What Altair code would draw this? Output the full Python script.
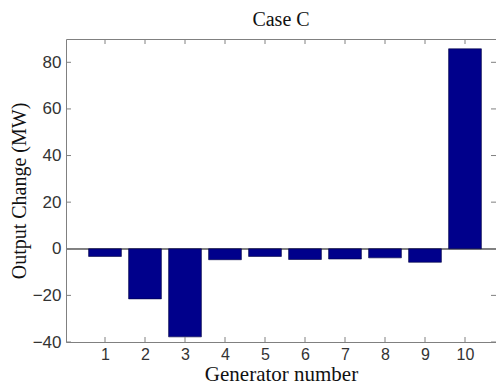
import altair as alt
import pandas as pd

generators = [1, 2, 3, 4, 5, 6, 7, 8, 9, 10]
output_change = [-3.3, -21.5, -37.8, -4.7, -3.3, -4.6, -4.4, -3.9, -5.8, 85.8]
y_ticks = [-40, -20, 0, 20, 40, 60, 80]
x_ticks = [1, 2, 3, 4, 5, 6, 7, 8, 9, 10]

W, H = 430, 303
FRAME = "#808080"
BAR = "#00008B"

df = pd.DataFrame({"g": generators, "v": output_change})
yt = pd.DataFrame({"t": y_ticks})
xt = pd.DataFrame({"t": x_ticks})

xscale = alt.Scale(domain=[0.025, 10.775], nice=False, zero=False)
yscale = alt.Scale(domain=[-40, 90], nice=False)
xaxis = alt.Axis(values=x_ticks, title="Generator number", ticks=False,
                 domain=False, grid=False, labelPadding=4, titlePadding=1,
                 titleFontSize=21, labelFontSize=16)
yaxis = alt.Axis(values=y_ticks, title="Output Change (MW)", ticks=False,
                 domain=False, grid=False, labelPadding=5, titlePadding=3,
                 titleFontSize=20)

bars = alt.Chart(df).transform_calculate(
    x0="datum.g - 0.41", x1="datum.g + 0.41"
).mark_bar(color=BAR, stroke="#000040", strokeWidth=0.6).encode(
    x=alt.X("x0:Q", scale=xscale, axis=xaxis, title="Generator number"),
    x2="x1:Q",
    y=alt.Y("v:Q", scale=yscale, axis=yaxis, title="Output Change (MW)"),
    y2=alt.datum(0),
)

zero = alt.Chart(df).mark_rule(color=FRAME, strokeWidth=1).encode(
    y=alt.Y(datum=0, scale=yscale, axis=yaxis, title="Output Change (MW)"),
    x=alt.value(0), x2=alt.value(W)
)

lt = alt.Chart(yt).mark_rule(color=FRAME).encode(
    y=alt.Y("t:Q", scale=yscale, axis=yaxis, title="Output Change (MW)"),
    x=alt.value(0), x2=alt.value(5))
rt = alt.Chart(yt).mark_rule(color=FRAME).encode(
    y=alt.Y("t:Q", scale=yscale, axis=yaxis, title="Output Change (MW)"),
    x=alt.value(W - 5), x2=alt.value(W))
bt = alt.Chart(xt).mark_rule(color=FRAME).encode(
    x=alt.X("t:Q", scale=xscale, axis=xaxis, title="Generator number"),
    y=alt.value(H - 5), y2=alt.value(H))
tt = alt.Chart(xt).mark_rule(color=FRAME).encode(
    x=alt.X("t:Q", scale=xscale, axis=xaxis, title="Generator number"),
    y=alt.value(0), y2=alt.value(5))

chart = alt.layer(zero, bars, lt, rt, bt, tt).properties(
    width=W, height=H,
    title=alt.Title("Case C", font="Liberation Serif", fontSize=20,
                    fontWeight="normal", color="#111", offset=9),
    autosize=alt.AutoSizeParams(type="none"),
    padding={"left": 58, "top": 31, "right": 0, "bottom": 42},
).configure_view(stroke=FRAME, strokeWidth=1).configure_axis(
    labelFont="Liberation Sans", labelFontSize=17, labelColor="#333",
    titleFont="Liberation Serif", titleFontWeight="normal",
    titleColor="#111",
)

chart.save("out.html", embed_options={"renderer": "svg", "actions": False})
